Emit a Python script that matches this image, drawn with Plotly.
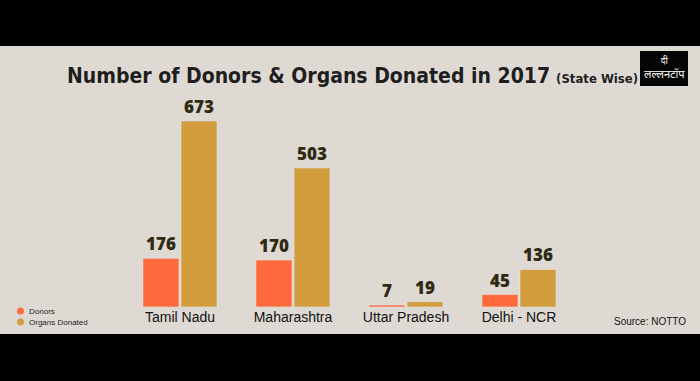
import plotly.graph_objects as go

states = ["Tamil Nadu", "Maharashtra", "Uttar Pradesh", "Delhi - NCR"]
donors = [176, 170, 7, 45]
organs = [673, 503, 19, 136]

W, H = 700, 381
def fx(px): return px / W
def fy(py): return (H - py) / H

orange = "#FF6A3D"
gold = "#D29D3C"
label_col = "#2E2B12"

fig = go.Figure()
fig.add_bar(x=states, y=donors, name="Donors", marker_color=orange,
            text=donors, textposition="outside", cliponaxis=False,
            textfont=dict(family="Open Sans", size=17, color=label_col, weight=800),
            showlegend=False)
fig.add_bar(x=states, y=organs, name="Organs Donated", marker_color=gold,
            text=organs, textposition="outside", cliponaxis=False,
            textfont=dict(family="Open Sans", size=17, color=label_col, weight=800),
            showlegend=False)

base_py = 307
scale = 0.2764
ymax = 800
top_py = base_py - ymax * scale

fig.update_layout(
    width=W, height=H,
    margin=dict(l=0, r=0, t=0, b=0),
    paper_bgcolor="#000000",
    plot_bgcolor="rgba(0,0,0,0)",
    barmode="group", bargap=0.327, bargroupgap=0.053,
    xaxis=dict(domain=[fx(123.5), fx(575.5)], range=[-0.5, 3.5],
               showgrid=False, zeroline=False, showline=False, ticks="",
               tickfont=dict(family="Liberation Sans, Arial", size=14, color="#111111"),
               anchor="y"),
    yaxis=dict(domain=[fy(base_py), fy(top_py)], range=[0, ymax], visible=False),
    font=dict(family="Liberation Sans, Arial"),
)

# paper background band
fig.add_shape(type="rect", xref="paper", yref="paper", x0=0, x1=1,
              y0=fy(334), y1=fy(46), fillcolor="#DEDAD3", line_width=0, layer="below")

# title
fig.add_annotation(xref="paper", yref="paper", x=fx(65), y=fy(76), xanchor="left", yanchor="middle",
                   showarrow=False,
                   text="<b>Number of Donors &amp; Organs Donated in 2017</b> <b><span style='font-size:13px'>(State Wise)</span></b>",
                   font=dict(family="DejaVu Sans Condensed, DejaVu Sans", size=21, color="#1E1E1E"))

# logo
fig.add_shape(type="rect", xref="paper", yref="paper", x0=fx(640), x1=fx(688),
              y0=fy(86), y1=fy(51), fillcolor="#050505", line_width=0)
fig.add_annotation(xref="paper", yref="paper", x=fx(664), y=fy(68.5), xanchor="center",
                   yanchor="middle", showarrow=False,
                   text="<span style='font-size:9px'>दी</span><br>लल्लनटॉप", align="center",
                   font=dict(family="Noto Sans Devanagari, Noto Sans, sans-serif", size=11, color="#FFFFFF"))

# legend
for i, (name, col) in enumerate([("Donors", orange), ("Organs Donated", gold)]):
    py = 311 + i * 11
    fig.add_shape(type="circle", xref="paper", yref="paper",
                  x0=fx(17), x1=fx(24), y0=fy(py + 3.5), y1=fy(py - 3.5),
                  fillcolor=col, line_width=0)
    fig.add_annotation(xref="paper", yref="paper", x=fx(27), y=fy(py), xanchor="left",
                       yanchor="middle", showarrow=False, text=name,
                       font=dict(family="Liberation Sans, Arial", size=8, color="#222222"))

# source
fig.add_annotation(xref="paper", yref="paper", x=fx(688), y=fy(321), xanchor="right",
                   yanchor="middle", showarrow=False, text="Source: NOTTO",
                   font=dict(family="Liberation Sans, Arial", size=10, color="#111111"))

fig.write_html("out.html")
